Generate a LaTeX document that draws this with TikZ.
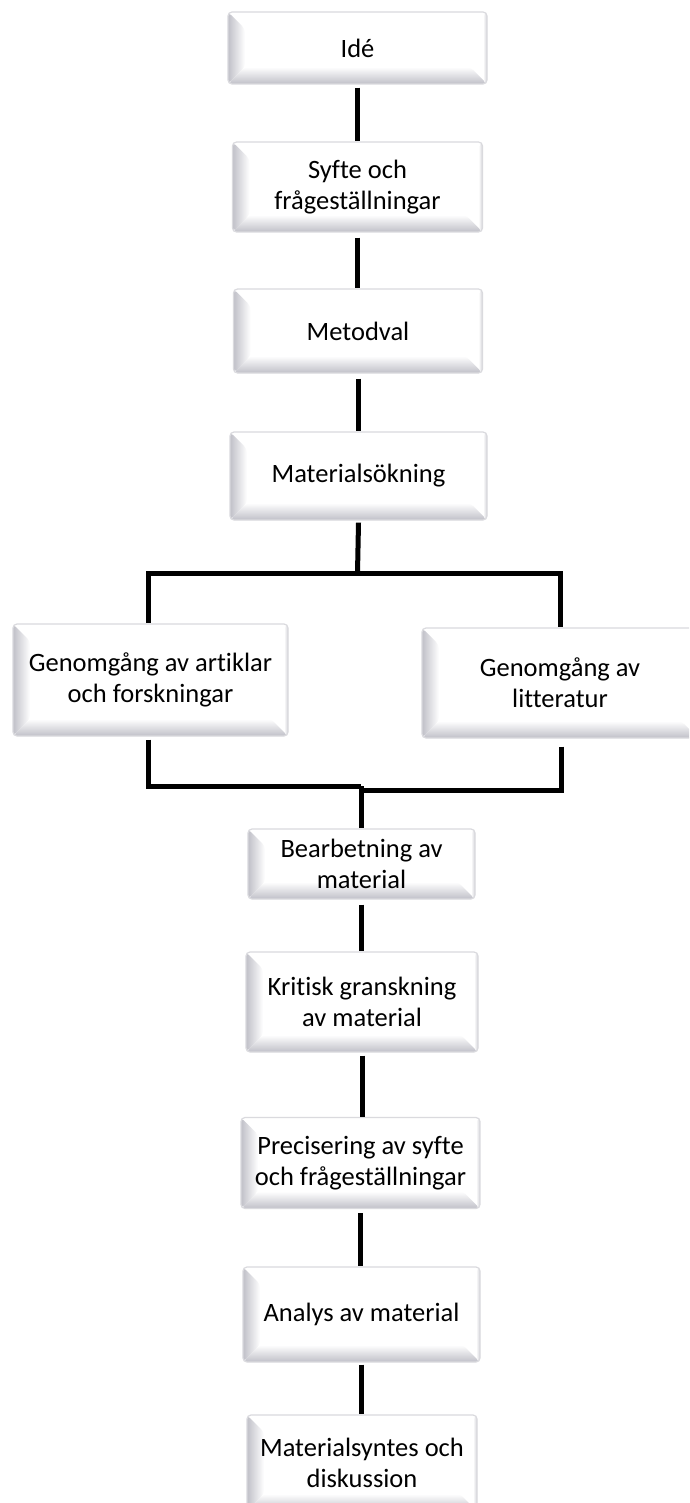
\documentclass[tikz,border=0pt]{standalone}
\usepackage{fontspec}
\setmainfont{Carlito}[Ligatures=NoCommon]
\definecolor{bevelgray}{RGB}{192,192,200}
\definecolor{edgegray}{RGB}{218,218,222}
\begin{document}
\begin{tikzpicture}[x=1pt,y=-1pt,
  bevelbox/.style={draw=edgegray, line width=1.2pt, rounded corners=4pt,
    fill=white, align=center, inner sep=0pt,
    font=\fontsize{26.5}{31}\selectfont,
    path picture={
      \path (path picture bounding box.south west) coordinate (sw)
            (path picture bounding box.north east) coordinate (ne)
            (path picture bounding box.north west) coordinate (nw)
            (path picture bounding box.south east) coordinate (se);
      \shade[left color=bevelgray, right color=white]
        (sw) -- (nw) -- ([xshift=17pt,yshift=-17pt]nw) -- ([xshift=17pt,yshift=17pt]sw) -- cycle;
      \shade[top color=white, bottom color=bevelgray]
        (sw) -- ([xshift=17pt,yshift=17pt]sw) -- ([xshift=-17pt,yshift=17pt]se) -- (se) -- cycle;
      \shade[left color=white, right color=bevelgray!70]
        ([xshift=-4pt,yshift=-4pt]ne) -- (ne) -- (se) -- ([xshift=-4pt,yshift=4pt]se) -- cycle;
    }},
  conn/.style={line width=5pt, black}]
\useasboundingbox (0,0) rectangle (689,1503);
\clip (0,0) rectangle (689,1503);
\fill[white] (0,0) rectangle (689,1503);

\node[bevelbox, minimum width=259pt, minimum height=72pt] (idee) at (357.5,48) {Idé};
\node[bevelbox, minimum width=250pt, minimum height=90pt] (syfte) at (357.5,187) {Syfte och\\frågeställningar};
\node[bevelbox, minimum width=249pt, minimum height=84pt] (metod) at (358,331) {Metodval};
\node[bevelbox, minimum width=257pt, minimum height=88pt] (matsok) at (358.5,476) {Materialsökning};
\node[bevelbox, minimum width=275pt, minimum height=112pt] (artik) at (150.5,680) {Genomgång av artiklar\\och forskningar};
\node[bevelbox, minimum width=276pt, minimum height=110pt] (litt) at (560,683) {Genomgång av\\litteratur};
\node[bevelbox, minimum width=227pt, minimum height=70pt] (bearb) at (361.5,864) {Bearbetning av\\material};
\node[bevelbox, minimum width=232pt, minimum height=100pt] (krit) at (362,1002) {Kritisk granskning\\av material};
\node[bevelbox, minimum width=239pt, minimum height=91pt] (prec) at (360.5,1163) {Precisering av syfte\\och frågeställningar};
\node[bevelbox, minimum width=237pt, minimum height=95pt] (anal) at (361.5,1314.5) {Analys av material};
\node[bevelbox, minimum width=230pt, minimum height=96pt] (synt) at (362,1463) {Materialsyntes och\\diskussion};

\coordinate (jtop) at (357.5,573);
\coordinate (jl) at (148.5,786);
\coordinate (jr) at (561,790);
\coordinate (jc) at (361,788);

\draw[conn] ([yshift=-3pt]idee.south) -- (idee.south |- syfte.north);
\draw[conn] ([yshift=-5pt]syfte.south) -- (syfte.south |- metod.north);
\draw[conn] ([yshift=-5pt]metod.south) -- (metod.south |- matsok.north);
\draw[conn] ([yshift=-2pt]matsok.south) -- (jtop);
\draw[conn] (jtop) -| ([xshift=-2pt]artik.north);
\draw[conn] (jtop) -| (litt.north);
\draw[conn] ([xshift=-2pt,yshift=-3pt]artik.south) -- (jl) -- (jc |- jl);
\draw[conn] ([xshift=1pt,yshift=-8pt]litt.south) -- (jr) -- (jc |- jr);
\draw[conn] (jc |- jl) -- (jc |- bearb.north);
\draw[conn] ([yshift=-5pt]bearb.south) -- (bearb.south |- krit.north);
\draw[conn] ([yshift=-3pt]krit.south) -- (krit.south |- prec.north);
\draw[conn] ([yshift=-4pt]prec.south) -- (prec.south |- anal.north);
\draw[conn] ([yshift=-2pt]anal.south) -- (anal.south |- synt.north);
\end{tikzpicture}
\end{document}
